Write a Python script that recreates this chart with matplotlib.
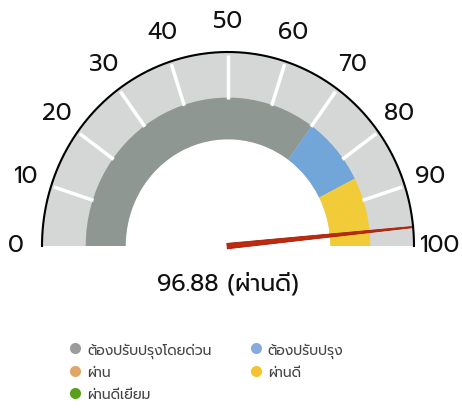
import numpy as np
import matplotlib
matplotlib.use("Agg")
import matplotlib.pyplot as plt
from matplotlib.patches import Wedge, Polygon
from matplotlib.lines import Line2D

plt.rcParams["font.family"] = ["Prompt", "DejaVu Sans"]

# data
score = 96.88
score_label = "ผ่านดี"
tick_values = [0, 10, 20, 30, 40, 50, 60, 70, 80, 90, 100]
band_starts = [0, 70, 85]
band_ends = [70, 85, 100]
band_colors = ["#8f9792", "#72a5d8", "#f2cc38"]
legend_names = ["ต้องปรับปรุงโดยด่วน", "ผ่าน", "ผ่านดีเยี่ยม", "ต้องปรับปรุง", "ผ่านดี"]
legend_colors = ["#9c9c9c", "#e3a565", "#58a01c", "#86acdd", "#f6c22e"]


def ang(v):
    return 180 - 1.8 * v


fig = plt.figure(figsize=(4.62, 4.10), dpi=100)
ax = fig.add_axes([0, 0, 1, 1])
# the gauge is a little taller than wide in the original
ax.set_xlim(-228 / 186, 234 / 186)
ax.set_ylim(-163 / 194, 247 / 194)
ax.axis("off")

# background band
ax.add_patch(Wedge((0, 0), 1.0, 0, 180, width=0.45, facecolor="#d5d7d7", edgecolor="none"))

# coloured bands
for s, e, c in zip(band_starts, band_ends, band_colors):
    ax.add_patch(Wedge((0, 0), 0.765, ang(e), ang(s), width=0.215, facecolor=c, edgecolor="none"))

# ticks
for v in tick_values[1:-1]:
    t = np.radians(ang(v))
    ax.plot([0.76 * np.cos(t), 0.985 * np.cos(t)], [0.76 * np.sin(t), 0.985 * np.sin(t)],
            color="white", lw=2.5, solid_capstyle="butt")

# outline
th = np.linspace(0, np.pi, 300)
ax.plot(np.cos(th), np.sin(th), color="black", lw=1.5)

# tick labels
for v in tick_values:
    t = np.radians(ang(v))
    ax.text(1.14 * np.cos(t), 1.15 * np.sin(t) + 0.01, str(v), fontsize=17,
            ha="center", va="center", color="#111111")

# needle
t = np.radians(ang(score))
d = np.array([np.cos(t), np.sin(t)])
n = np.array([-np.sin(t), np.cos(t)])
tip = d * 1.0
pts = [-d * 0.005 + n * 0.014, tip + n * 0.003, tip - n * 0.003, -d * 0.005 - n * 0.014]
ax.add_patch(Polygon(pts, closed=True, facecolor="#c0290c", edgecolor="#9e1e08", lw=0.6,
                     joinstyle="round"))

# value text
ax.text(0, -0.19, f"{score:.2f} ({score_label})", fontsize=17, ha="center", va="center",
        color="#111111")

# legend
handles = [Line2D([], [], marker="o", ls="none", markersize=8, markerfacecolor=c,
                  markeredgecolor="none") for c in legend_colors]
fig.legend(handles, legend_names, ncol=2, loc="upper left", bbox_to_anchor=(0.148, 0.163),
           frameon=False, fontsize=10, handletextpad=0.35, columnspacing=2.7,
           labelspacing=0.62, handlelength=1.0, borderpad=0, borderaxespad=0,
           labelcolor="#444444")

fig.savefig("out.png")
